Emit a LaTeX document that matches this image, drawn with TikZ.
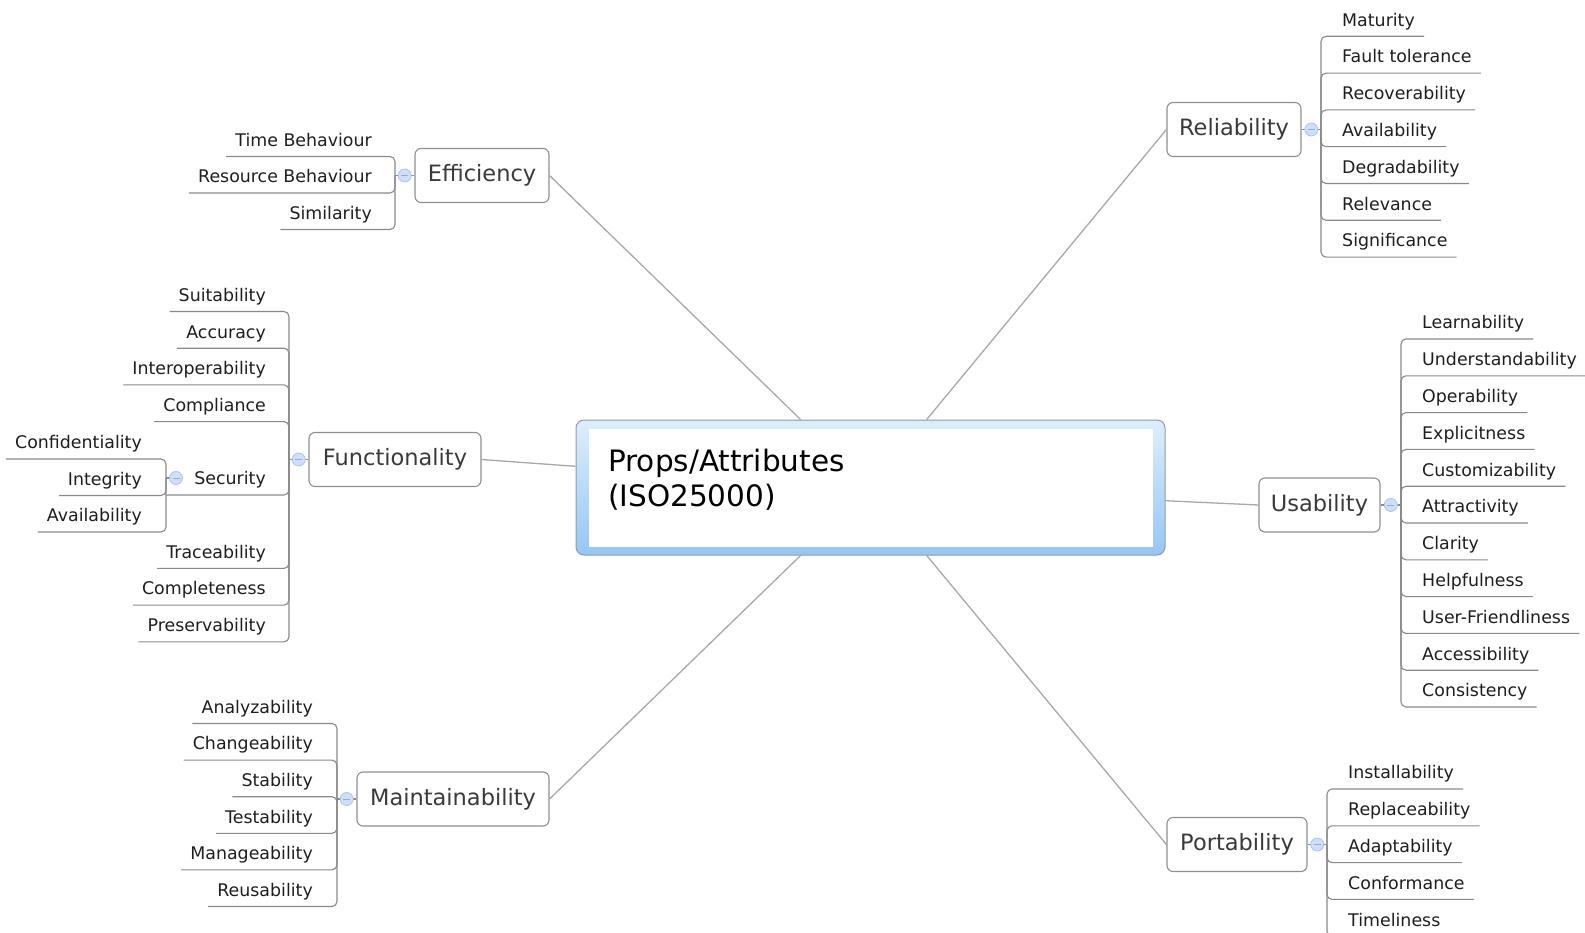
\documentclass[tikz,border=0pt]{standalone}
\usepackage{fontspec}
\setmainfont{DejaVu Sans}
\usetikzlibrary{calc}
\definecolor{boxline}{HTML}{8F8F8F}
\definecolor{brkline}{HTML}{8A8A8A}
\definecolor{connline}{HTML}{A8A8A8}
\definecolor{btnfill}{HTML}{CDDFF9}
\definecolor{btndraw}{HTML}{A9C5EF}
\definecolor{btnminus}{HTML}{8FAEDC}
\definecolor{ctop}{HTML}{DDEEFD}
\definecolor{cbot}{HTML}{96C6F5}
\definecolor{cline}{HTML}{8E9BA8}
\definecolor{itemtext}{HTML}{1E1E1E}
\definecolor{branchtext}{HTML}{3A3A3A}
\begin{document}
\begin{tikzpicture}[x=1pt,y=-1pt,
  item/.style={font=\fontsize{17.4}{20}\selectfont, text=itemtext, inner xsep=9pt, inner ysep=6pt, text height=13pt, text depth=4pt},
  branch/.style={draw=boxline, line width=1.1pt, rounded corners=6pt, fill=white, font=\fontsize{22.5}{26}\selectfont, text=branchtext, minimum height=54pt, inner xsep=10pt},
  brk/.style={draw=brkline, line width=1.1pt, rounded corners=5pt},
  conn/.style={draw=connline, line width=1.3pt},
  btn/.style={circle, minimum size=13pt, inner sep=0pt, fill=btnfill, draw=btndraw, line width=0.8pt,
    path picture={\draw[btnminus, line width=1pt] ([xshift=-3.5pt]path picture bounding box.center) -- ([xshift=3.5pt]path picture bounding box.center);}},
  cbox/.style={draw=cline, line width=1pt, rounded corners=8pt, top color=ctop, bottom color=cbot, minimum width=589pt, minimum height=135pt, inner sep=0pt}]
\useasboundingbox (0,0) rectangle (1585,933);
\clip (0,0) rectangle (1585,933);

% ---------- central topic ----------
\node[cbox] (cbox) at (870.5,487.5) {};
\fill[white] ([xshift=13pt,yshift=-9pt]cbox.north west) rectangle ([xshift=-13pt,yshift=9pt]cbox.south east);
\node[anchor=base west, align=left, text width=420pt, inner sep=0pt, font=\fontsize{29.5}{35}\selectfont, text=black] (ctitle) at (608,471) {Props/Attributes\\(ISO25000)};

% ---------- main branches ----------
\node[branch, minimum width=134pt] (eff) at (482,175.5) {Efficiency};
\node[branch, minimum width=134pt] (rel) at (1234,129.5) {Reliability};
\node[branch, minimum width=172pt] (fun) at (395,459.5) {Functionality};
\node[branch, minimum width=121pt] (usa) at (1319.5,505) {Usability};
\node[branch, minimum width=192pt] (mai) at (453,799) {Maintainability};
\node[branch, minimum width=140pt] (por) at (1237,844.5) {Portability};

\draw[conn] (eff.east) -- (cbox);
\draw[conn] (rel.west) -- (cbox);
\draw[conn] (fun.east) -- (cbox);
\draw[conn] (usa.west) -- (cbox);
\draw[conn] (mai.east) -- (cbox);
\draw[conn] (por.west) -- (cbox);

% ---------- Efficiency ----------
\coordinate (ej) at (395,175.5);
\foreach \t [count=\i from 0] in {Time Behaviour, Resource Behaviour, Similarity}{
  \node[item, anchor=south east] (e\i) at (381,156.5+36.5*\i) {\t};
  \draw[brk] (ej) |- (e\i.south west);
}
\draw[brk] (ej) -- (eff.west);
\node[btn] (ebtn) at ($(ej)!0.5!(eff.west)$) {};

% ---------- Reliability ----------
\coordinate (rj) at (1321,129.5);
\foreach \t [count=\i from 0] in {Maturity, Fault tolerance, Recoverability, Availability, Degradability, Relevance, Significance}{
  \node[item, anchor=south west] (r\i) at (1333,36.3+36.8*\i) {\t};
  \draw[brk] (rj) |- (r\i.south east);
}
\draw[brk] (rj) -- (rel.east);
\node[btn] (rbtn) at ($(rj)!0.5!(rel.east)$) {};

% ---------- Usability ----------
\coordinate (uj) at (1401,505);
\foreach \t [count=\i from 0] in {Learnability, Understandability, Operability, Explicitness, Customizability, Attractivity, Clarity, Helpfulness, User-Friendliness, Accessibility, Consistency}{
  \node[item, anchor=south west] (u\i) at (1413,339+36.8*\i) {\t};
  \draw[brk] (uj) |- (u\i.south east);
}
\draw[brk] (uj) -- (usa.east);
\node[btn] (ubtn) at ($(uj)!0.5!(usa.east)$) {};

% ---------- Portability ----------
\coordinate (pj) at (1327,844.5);
\foreach \t [count=\i from 0] in {Installability, Replaceability, Adaptability, Conformance, Timeliness}{
  \node[item, anchor=south west] (p\i) at (1339,789+36.8*\i) {\t};
  \draw[brk] (pj) |- (p\i.south east);
}
\draw[brk] (pj) -- (por.east);
\node[btn] (pbtn) at ($(pj)!0.5!(por.east)$) {};

% ---------- Maintainability ----------
\coordinate (mj) at (337,799);
\foreach \t [count=\i from 0] in {Analyzability, Changeability, Stability, Testability, Manageability, Reusability}{
  \node[item, anchor=south east] (m\i) at (322,723.5+36.6*\i) {\t};
  \draw[brk] (mj) |- (m\i.south west);
}
\draw[brk] (mj) -- (mai.west);
\node[btn] (mbtn) at ($(mj)!0.5!(mai.west)$) {};

% ---------- Functionality ----------
\coordinate (fj) at (289,459.5);
\foreach \t/\k in {Suitability/0, Accuracy/1, Interoperability/2, Compliance/3, Traceability/7, Completeness/8, Preservability/9}{
  \node[item, anchor=south east] (f\k) at (275,311.5+36.7*\k) {\t};
  \draw[brk] (fj) |- (f\k.south west);
}
\coordinate (secj) at (166,478);
\node[item, anchor=south east] (sec) at (275,495) {Security};
\draw[brk] (fj) |- (secj |- sec.south);
\foreach \t [count=\i from 0] in {Confidentiality, Integrity, Availability}{
  \node[item, anchor=south east] (s\i) at (151,459+36.5*\i) {\t};
  \draw[brk] (secj) |- (s\i.south west);
}
\draw[brk] (secj) -- ++(10,0) coordinate (secb);
\node[btn] (sbtn) at (secb) {};
\draw[brk] (fj) -- (fun.west);
\node[btn] (fbtn) at ($(fj)!0.5!(fun.west)$) {};
\end{tikzpicture}
\end{document}
